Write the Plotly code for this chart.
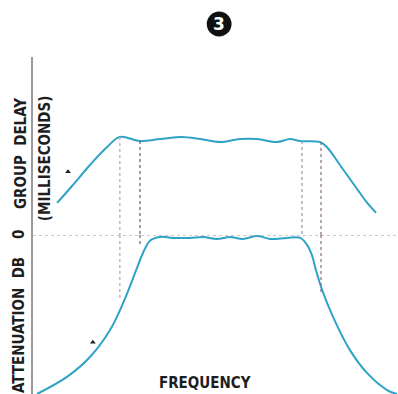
import plotly.graph_objects as go

# Group delay curve (frequency in arbitrary units 0-100, delay in ms)
delay_freq = [6.6, 10.7, 15.6, 20.3, 23.8, 29.3, 34.8, 40.8, 45.8, 51.2, 56.7, 61.4,
              66.8, 70.4, 73.2, 78.6, 80.5, 84.1, 88.2, 91.8, 94.0]
delay_ms = [1.80, 2.75, 3.93, 4.94, 5.51, 5.28, 5.39, 5.51, 5.39, 5.22, 5.39, 5.39,
            5.22, 5.39, 5.28, 5.22, 4.94, 3.93, 2.75, 1.74, 1.24]

# Attenuation curve (dB, 0 at top)
atten_freq = [1.1, 9.3, 15.6, 21.1, 24.7, 28.5, 30.1, 32.1, 34.8, 38.4, 43.0, 46.6,
              50.4, 54.0, 57.5, 61.4, 64.9, 69.6, 73.2, 75.1, 76.4, 77.5, 79.2, 82.2,
              86.8, 91.5, 97.0, 99.7]
atten_db = [40.0, 35.7, 30.7, 23.9, 17.1, 8.3, 4.6, 1.4, 0.5, 0.75, 0.75, 0.5,
            1.0, 0.5, 1.0, 0.25, 1.0, 0.75, 0.75, 2.5, 5.0, 8.8, 13.8, 20.6,
            28.9, 34.7, 39.0, 40.0]

# dotted drop lines: frequency, delay at top, attenuation at bottom, colour
marker_freq = [23.8, 29.3, 73.7, 78.9]
marker_delay = [5.51, 5.28, 5.28, 5.22]
marker_atten = [16.4, 2.5, 0.0, 14.5]
marker_color = ["#b8a2aa", "#5a5f66", "#8aa0ac", "#8c6a86"]

# little arrow ticks on each curve
arrow_freq = [9.6, 16.4]
arrow_delay = [3.55]
arrow_atten = [27.0]

curve_color = "#2ea3c6"
label_font = dict(family="DejaVu Sans Condensed", size=15, color="#1e1e1e")

fig = go.Figure()

fig.add_trace(go.Scatter(x=delay_freq, y=delay_ms, mode="lines", line_shape="spline",
                         line=dict(color=curve_color, width=2), yaxis="y2", showlegend=False))
fig.add_trace(go.Scatter(x=atten_freq, y=atten_db, mode="lines", line_shape="spline",
                         line=dict(color=curve_color, width=2), yaxis="y", showlegend=False))

# zero reference line
fig.add_trace(go.Scatter(x=[0, 100], y=[0, 0], mode="lines",
                         line=dict(color="#a88e98", width=1.2, dash="dot"),
                         yaxis="y", showlegend=False))

for f, d, a, c in zip(marker_freq, marker_delay, marker_atten, marker_color):
    fig.add_trace(go.Scatter(x=[f, f], y=[d, 0], mode="lines",
                             line=dict(color=c, width=1.2, dash="dot"),
                             yaxis="y2", showlegend=False))
    fig.add_trace(go.Scatter(x=[f, f], y=[0, a], mode="lines",
                             line=dict(color=c, width=1.2, dash="dot"),
                             yaxis="y", showlegend=False))

fig.add_trace(go.Scatter(x=[arrow_freq[0]], y=arrow_delay, mode="markers",
                         marker=dict(symbol="triangle-up", size=5, color="#1e1e1e"),
                         yaxis="y2", showlegend=False))
fig.add_trace(go.Scatter(x=[arrow_freq[1]], y=arrow_atten, mode="markers",
                         marker=dict(symbol="triangle-up", size=5, color="#1e1e1e"),
                         yaxis="y", showlegend=False))

bold = lambda s: "<b>" + s + "</b>"
annotations = [
    dict(text=bold("GROUP  DELAY"), x=-0.033, y=0.715, textangle=-90),
    dict(text=bold("(MILLISECONDS)"), x=0.033, y=0.70, textangle=-90),
    dict(text=bold("0"), x=-0.038, y=0.472, textangle=-90),
    dict(text=bold("ATTENUATION  DB"), x=-0.038, y=0.205, textangle=-90),
    dict(text=bold("FREQUENCY"), x=0.471, y=0.033),
]
for a in annotations:
    fig.add_annotation(xref="paper", yref="paper", showarrow=False,
                       xanchor="center", yanchor="middle", font=label_font, **a)

# figure number: black disc with a white 3
fig.add_shape(type="circle", xref="paper", yref="paper",
              x0=0.476, x1=0.544, y0=1.061, y1=1.135,
              fillcolor="#111", line=dict(color="#111", width=0))
fig.add_annotation(text=bold("3"), xref="paper", yref="paper", x=0.510, y=1.098,
                   showarrow=False, xanchor="center", yanchor="middle",
                   font=dict(family="DejaVu Sans", size=17, color="white"))

fig.update_layout(
    width=398, height=394,
    margin=dict(l=33, r=0, t=57, b=0),
    paper_bgcolor="white", plot_bgcolor="white",
    xaxis=dict(range=[0, 100], showgrid=False, zeroline=False, showticklabels=False,
               showline=False, ticks=""),
    yaxis=dict(domain=[0, 0.472], range=[40, 0], showgrid=False, zeroline=False,
               showticklabels=False, ticks="", showline=True, linecolor="#9a9a9a", linewidth=1.5),
    yaxis2=dict(domain=[0.472, 1], range=[0, 10], showgrid=False, zeroline=False,
                showticklabels=False, ticks="", showline=True, linecolor="#9a9a9a", linewidth=1.5),
)

fig.write_html("out.html", config={"displayModeBar": False},
               post_script="document.body.style.margin='0';")
